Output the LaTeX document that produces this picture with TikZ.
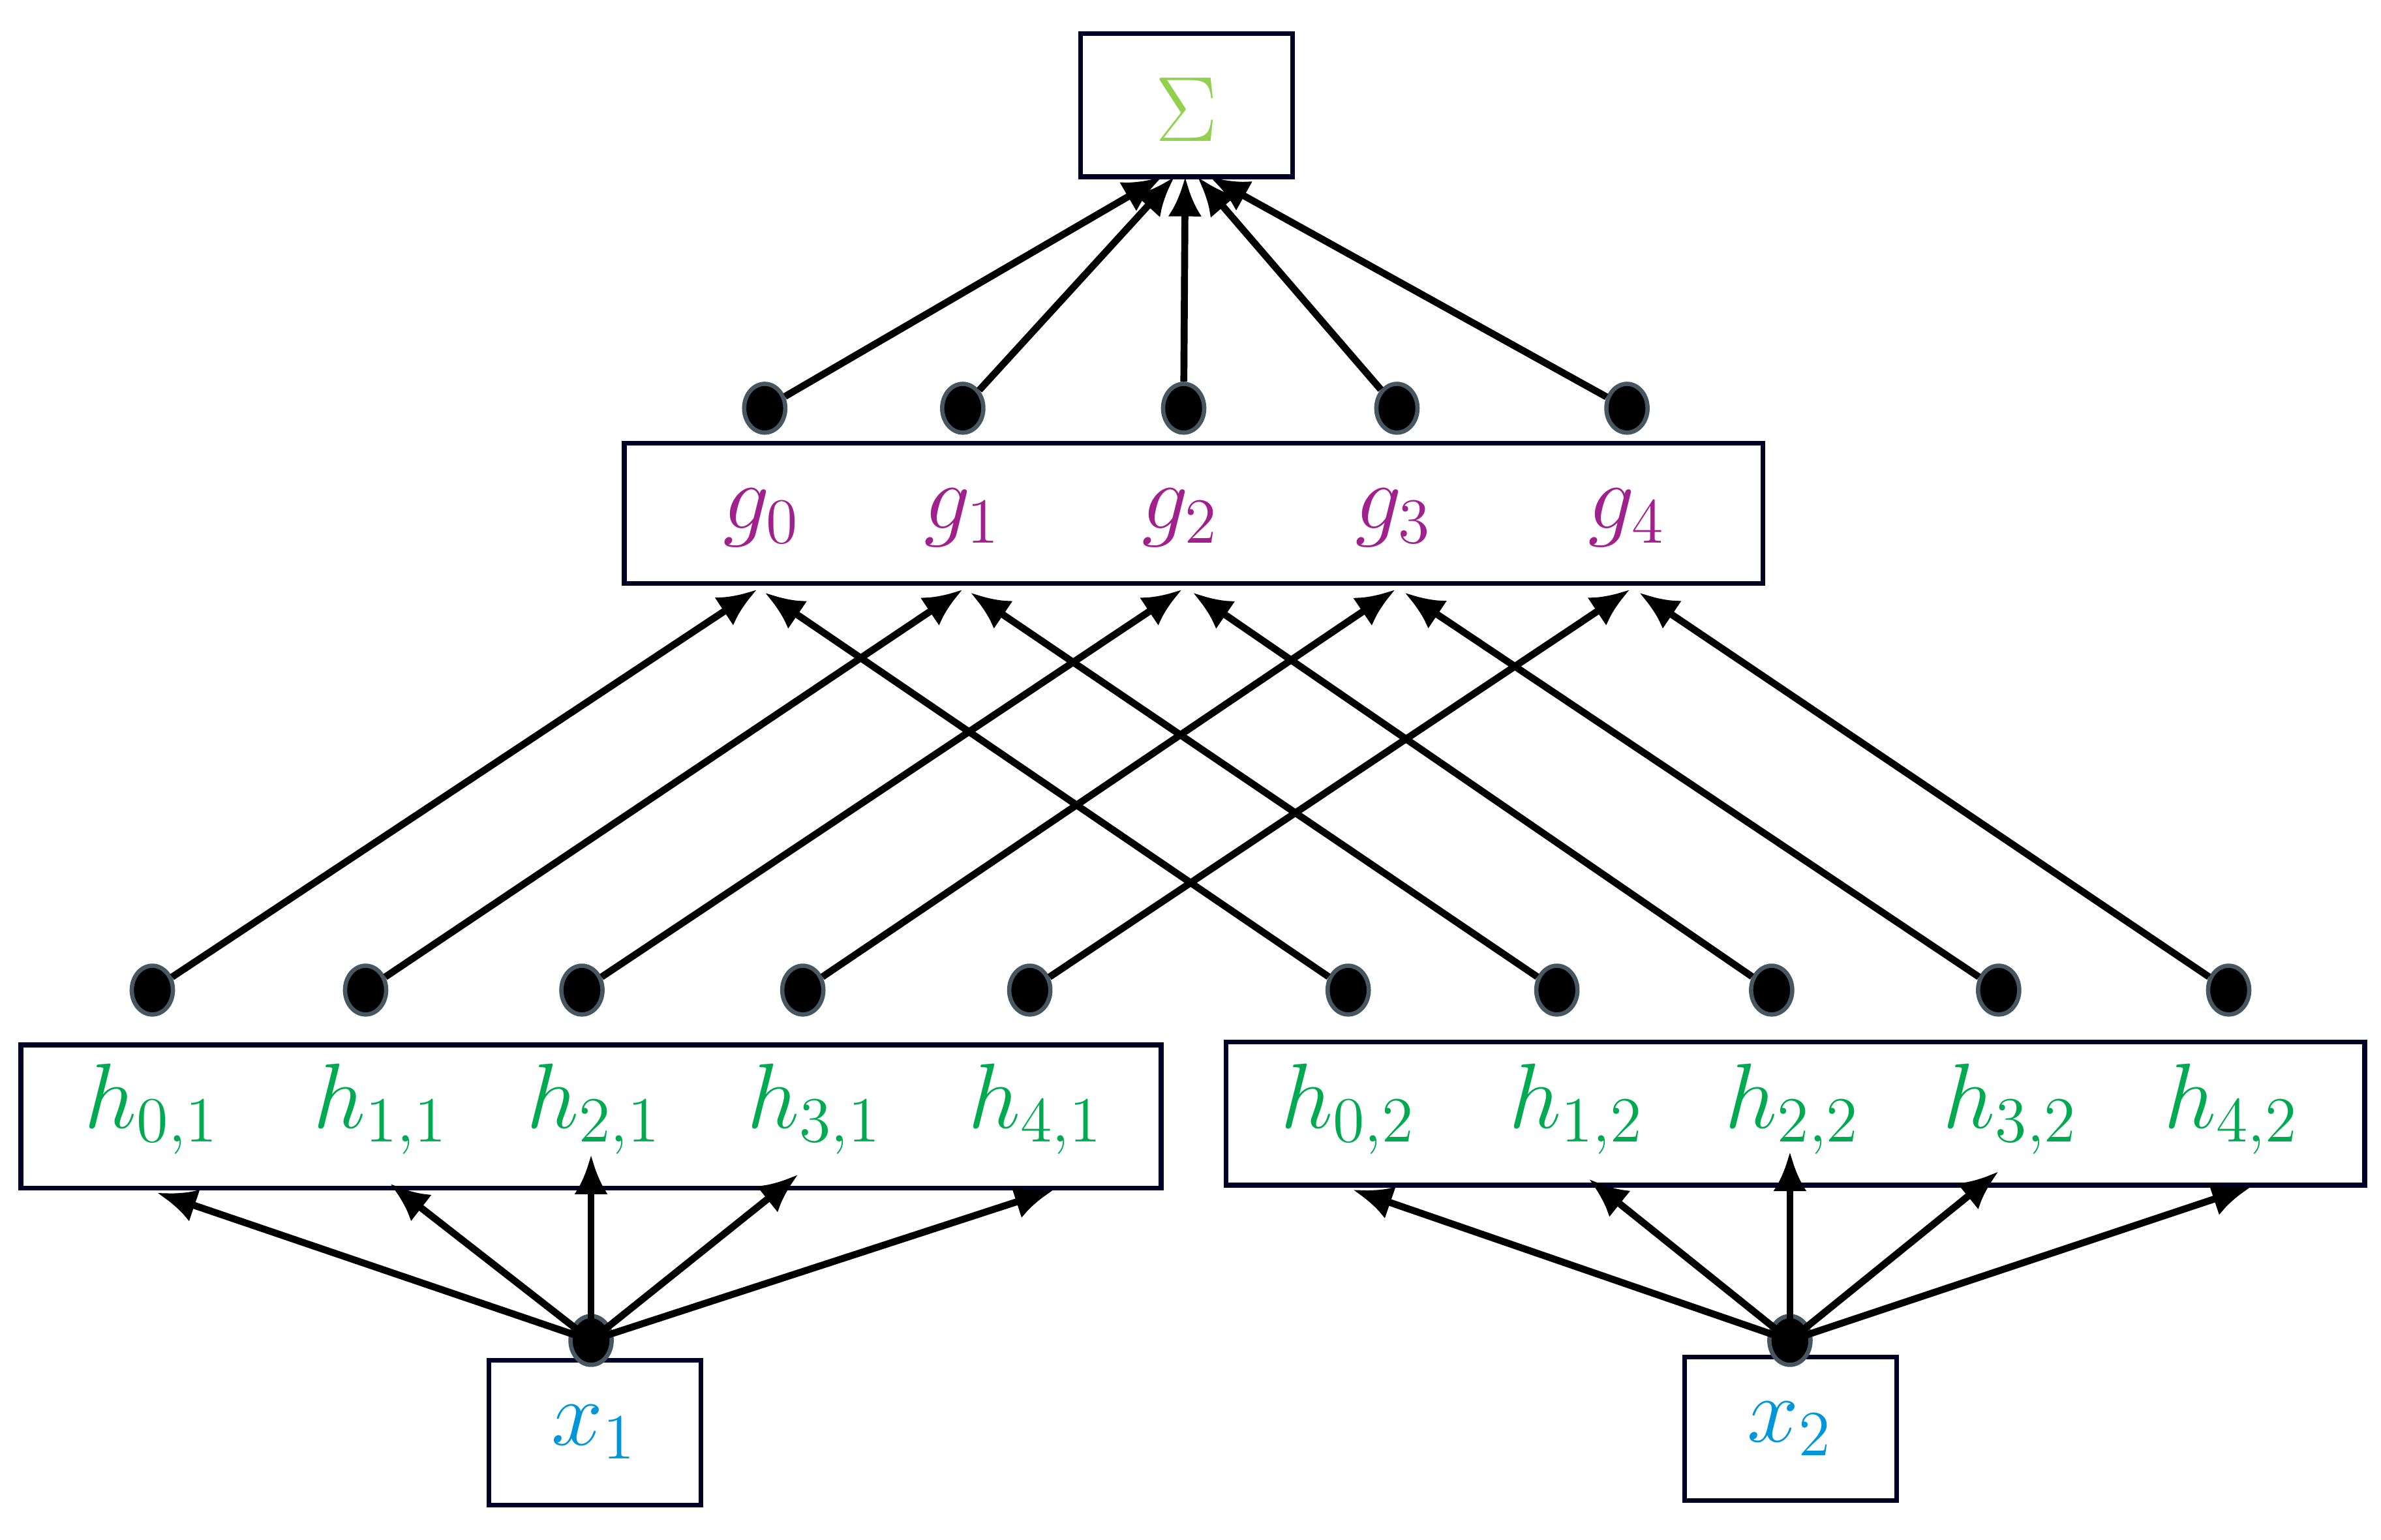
\documentclass[tikz,border=0pt]{standalone}
\usetikzlibrary{arrows.meta,shapes.geometric}
\definecolor{sig}{RGB}{146,208,80}
\definecolor{gcol}{RGB}{160,32,140}
\definecolor{hcol}{RGB}{0,170,80}
\definecolor{xcol}{RGB}{0,150,215}
\begin{document}
\begin{tikzpicture}[x=0.01cm,y=-0.01cm,
  box/.style={draw=black!85!blue,line width=0.9pt,inner sep=0},
  dot/.style={ellipse,fill=black,draw=black!70!cyan,line width=0.8pt,minimum width=0.27cm,minimum height=0.32cm,inner sep=0},
  arr/.style={-{Latex[length=2.6mm,width=2.2mm]},line width=1.3pt},
  lab/.style={font=\fontsize{18}{20}\selectfont}]
\useasboundingbox (0,0) rectangle (1563,1011);
% boxes
\node[box,minimum width=1.39cm,minimum height=0.94cm] (S) at (779,69) {};
\node[lab,text=sig] at (779,72) {$\Sigma$};
\node[box,minimum width=7.47cm,minimum height=0.92cm] (G) at (783.5,337) {};
\node[box,minimum width=7.48cm,minimum height=0.94cm] (H1) at (388,733) {};
\node[box,minimum width=7.47cm,minimum height=0.94cm] (H2) at (1178.5,731) {};
\node[box,minimum width=1.39cm,minimum height=0.95cm] (X1) at (390.5,940.5) {};
\node[box,minimum width=1.39cm,minimum height=0.94cm] (X2) at (1175.5,938) {};
\node[lab,text=xcol] at (390,940) {$x_1$};
\node[lab,text=xcol] at (1175,938) {$x_2$};
% g labels
\foreach \i/\x in {0/500,1/632,2/775,3/915,4/1068}
  \node[lab,text=gcol] (g\i) at (\x,340) {$g_{\i}$};
% h labels
\foreach \i/\x in {0/100,1/250,2/390,3/535,4/680}
  \node[lab,text=hcol] at (\x,728) {$h_{\i,1}$};
\foreach \i/\x in {0/885,1/1035,2/1177,3/1320,4/1465}
  \node[lab,text=hcol] at (\x,728) {$h_{\i,2}$};
% top dots
\foreach \i/\x in {0/502,1/632,2/777,3/917,4/1068}
  \node[dot] (t\i) at (\x,268) {};
\coordinate (s0) at (763,116);\coordinate (s1) at (771,116);\coordinate (s2) at (778,116);
\coordinate (s3) at (786,116);\coordinate (s4) at (794,116);
\foreach \i in {0,...,4} \draw[arr] (t\i) -- (s\i);
% lower dots and arrows
\foreach \i/\x/\tx in {0/100/497,1/240/632,2/382/776,3/527/916,4/676/1070}{
  \node[dot] (a\i) at (\x,650) {};
  \coordinate (ea\i) at (\tx,387);
  \draw[arr] (a\i) -- (ea\i);
}
\foreach \i/\x/\tx in {0/885/502,1/1022/637,2/1163/783,3/1312/922,4/1463/1076}{
  \node[dot] (b\i) at (\x,650) {};
  \coordinate (eb\i) at (\tx,389);
  \draw[arr] (b\i) -- (eb\i);
}
% input dots
\node[dot] (p1) at (388,880) {};
\node[dot] (p2) at (1175,880) {};
\foreach \i/\x/\y in {0/103/783,1/256/777,2/388/758,3/524/771,4/692/781}{
  \coordinate (u\i) at (\x,\y);
  \draw[arr] (p1.center) -- (u\i);
}
\foreach \i/\x/\y in {0/888/781,1/1043/774,2/1175/756,3/1312/769,4/1478/779}{
  \coordinate (v\i) at (\x,\y);
  \draw[arr] (p2.center) -- (v\i);
}
\end{tikzpicture}
\end{document}
